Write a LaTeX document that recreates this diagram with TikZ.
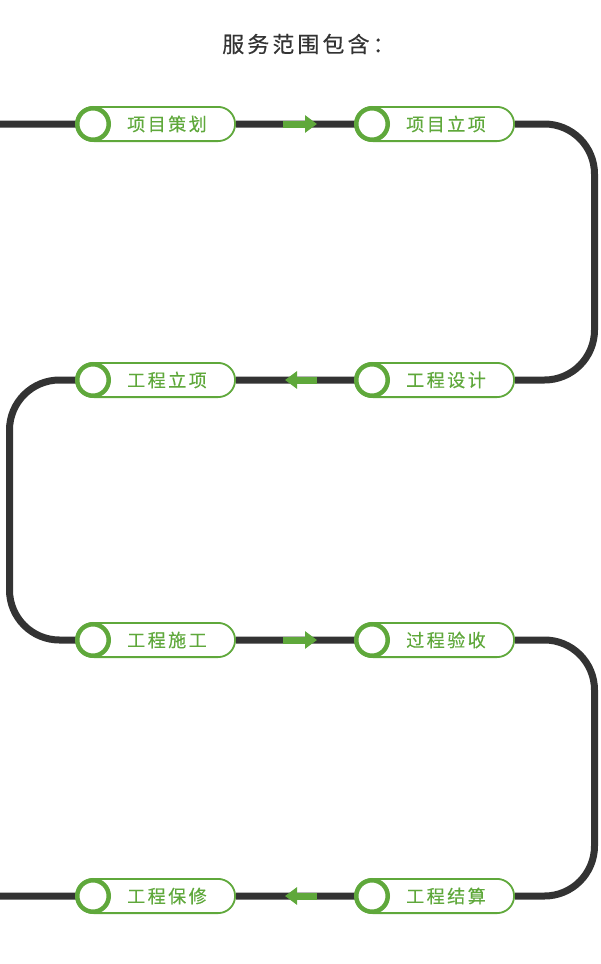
\documentclass[tikz,border=0pt]{standalone}
\usepackage{fontspec}
\usepackage{tikz}
\usetikzlibrary{positioning,calc,arrows.meta,backgrounds}
\newfontfamily\cjk[LetterSpace=14,FakeBold=0.3]{Noto Sans CJK SC}
\definecolor{stepc}{HTML}{5FA83B}
\definecolor{trackc}{HTML}{333333}

\begin{document}
\begin{tikzpicture}[x=1pt, y=-1pt,
    track/.style={draw=trackc, line width=7pt, rounded corners=50pt},
    pill/.style={draw=stepc, line width=1.8pt, fill=white, rounded corners=17pt,
      minimum width=158.2pt, minimum height=34.2pt, inner sep=0pt},
    ring/.style={circle, draw=stepc, line width=4.5pt, fill=white, minimum size=31.5pt, inner sep=0pt},
    lbl/.style={font=\cjk\fontsize{18}{18}\selectfont, text=stepc, anchor=west, inner sep=0pt},
    flow/.style={draw=stepc, line width=7pt, -{Triangle[width=17pt,length=12pt]}}]
  \useasboundingbox (0,0) rectangle (600,964);
  \node[font=\cjk\fontsize{22}{22}\selectfont, text=trackc, anchor=west, inner sep=0pt] (title) at (222,44) {服务范围包含：};
  % the steps
  \foreach \x/\y/\t [count=\i] in {156/124/项目策划, 435/124/项目立项, 435/380/工程设计, 156/380/工程立项,
      156/640/工程施工, 435/640/过程验收, 435/896/工程结算, 156/896/工程保修}{
    \node[pill] (p\i) at (\x,\y) {};
    \node[ring] (r\i) at ([xshift=17pt]p\i.west) {};
    \node[lbl] (t\i) at ([xshift=51pt]p\i.west) {\t};}
  \coordinate (lin) at (0,124);
  \coordinate (lout) at (0,896);
  \coordinate (rt) at (594.5,0);
  \coordinate (lt) at (9.5,0);
  % track behind the pills
  \begin{scope}[on background layer]
  \path[track] (lin) -- (p1.west) (p1.east) -- (p2.west)
    (p2.east) -- (p2.east -| rt) -- (p3.east -| rt) -- (p3.east)
    (p3.west) -- (p4.east)
    (p4.west) -- (p4.west -| lt) -- (p5.west -| lt) -- (p5.west)
    (p5.east) -- (p6.west)
    (p6.east) -- (p6.east -| rt) -- (p7.east -| rt) -- (p7.east)
    (p7.west) -- (p8.east) (p8.west) -- (lout);
  \end{scope}
  % direction marks
  \draw[flow] ([xshift=47pt]p1.east) -- ([xshift=81pt]p1.east);
  \draw[flow] ([xshift=81pt]p4.east) -- ([xshift=49pt]p4.east);
  \draw[flow] ([xshift=47pt]p5.east) -- ([xshift=81pt]p5.east);
  \draw[flow] ([xshift=81pt]p8.east) -- ([xshift=49pt]p8.east);
\end{tikzpicture}
\end{document}
